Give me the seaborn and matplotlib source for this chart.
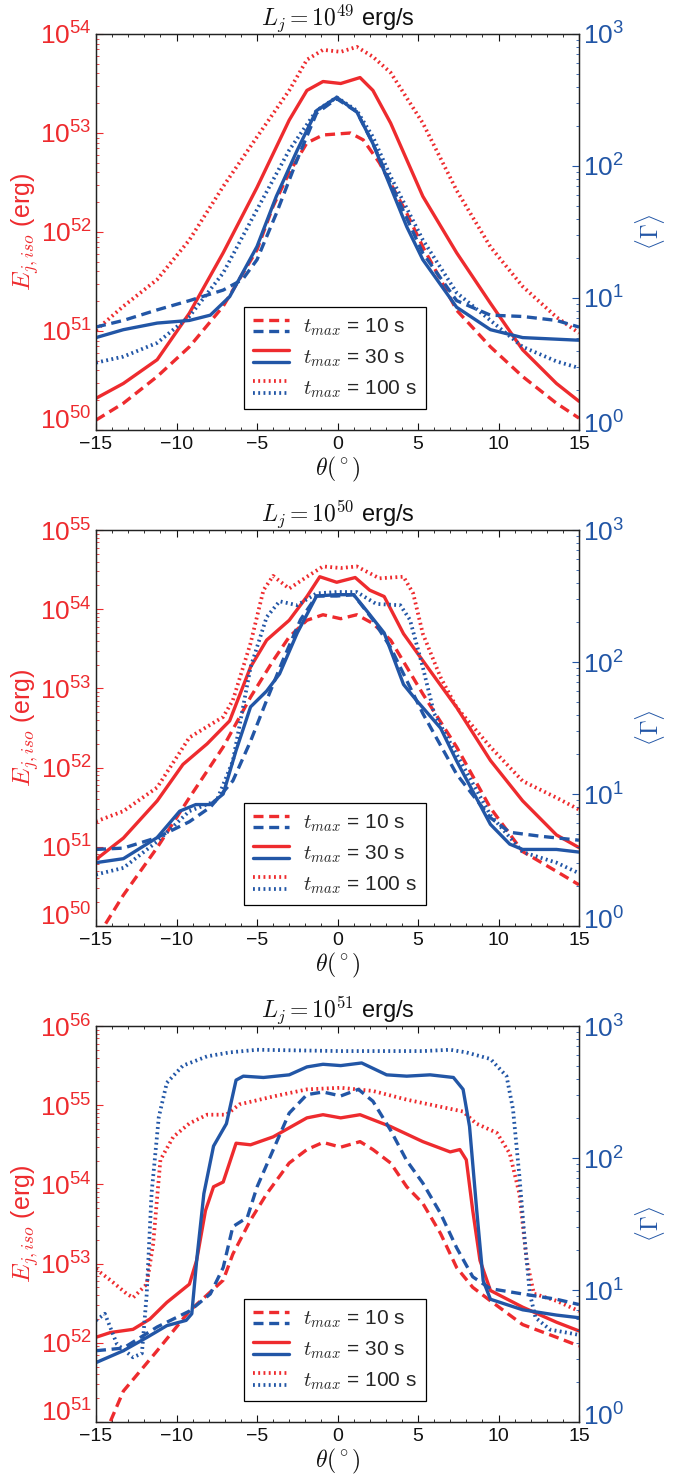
import numpy as np
import matplotlib
matplotlib.use("Agg")
import matplotlib.pyplot as plt
import seaborn as sns
from matplotlib.lines import Line2D
from matplotlib.legend_handler import HandlerBase
from matplotlib.ticker import MultipleLocator, LogLocator, NullFormatter
from matplotlib.transforms import ScaledTranslation

# ---------------- data (log10 values) ----------------
# Panel 1 : L_j = 1e49 erg/s
p1_E100_th = [-15, -13.3, -11.2, -9.2, -7.1, -5.0, -3.0, -1.9, -0.9, 0.2, 1.2, 2.2, 3.3, 5.3, 7.4, 9.5, 11.5, 13.6, 15]
p1_E100 = [51.01, 51.25, 51.52, 51.92, 52.46, 52.96, 53.43, 53.74, 53.84, 53.82, 53.87, 53.77, 53.61, 53.10, 52.42, 51.85, 51.45, 51.14, 50.98]
p1_E30_th = [-15, -13.3, -11.2, -9.2, -7.1, -5.0, -3.0, -1.9, -0.9, 0.2, 1.4, 2.2, 3.3, 5.3, 7.4, 9.5, 11.5, 13.6, 15]
p1_E30 = [50.32, 50.47, 50.71, 51.18, 51.79, 52.45, 53.13, 53.43, 53.52, 53.50, 53.56, 53.43, 53.10, 52.36, 51.79, 51.28, 50.81, 50.47, 50.29]
p1_E10_th = [-15, -13.3, -11.2, -9.2, -7.1, -5.0, -4.0, -3.0, -1.9, -0.9, 0.8, 1.6, 2.6, 4.3, 5.3, 6.4, 7.4, 9.5, 11.5, 13.6, 15]
p1_E10 = [50.10, 50.27, 50.54, 50.84, 51.25, 51.82, 52.26, 52.60, 52.90, 52.98, 53.00, 52.93, 52.70, 52.19, 51.85, 51.52, 51.21, 50.84, 50.54, 50.27, 50.12]
p1_G100_th = [-15, -13.3, -11.2, -9.2, -7.1, -5.0, -3.0, -1.3, -0.05, 1.2, 2.2, 3.3, 5.3, 7.4, 9.5, 11.5, 13.6, 15]
p1_G100 = [0.51, 0.556, 0.66, 0.86, 1.19, 1.67, 2.12, 2.42, 2.52, 2.42, 2.22, 1.92, 1.44, 1.04, 0.83, 0.63, 0.52, 0.47]
p1_G30_th = [-15, -13.3, -11.2, -9.2, -7.9, -6.7, -5.0, -3.8, -2.5, -1.3, -0.05, 1.2, 2.2, 3.3, 4.3, 5.3, 7.4, 9.5, 11.5, 15]
p1_G30 = [0.70, 0.76, 0.81, 0.83, 0.87, 1.01, 1.39, 1.77, 2.12, 2.42, 2.52, 2.41, 2.17, 1.84, 1.54, 1.29, 0.93, 0.76, 0.70, 0.68]
p1_G10_th = [-15, -13.3, -11.2, -9.2, -7.1, -5.9, -5.0, -3.8, -2.5, -1.3, -0.05, 1.2, 2.2, 3.3, 5.3, 7.4, 9.5, 11.5, 13.6, 15]
p1_G10 = [0.78, 0.83, 0.91, 0.98, 1.06, 1.14, 1.29, 1.64, 2.05, 2.40, 2.51, 2.41, 2.17, 1.87, 1.34, 0.98, 0.87, 0.86, 0.83, 0.78]

# Panel 2 : L_j = 1e50 erg/s
p2_E100_th = [-15, -13.3, -11.2, -9.2, -7.1, -6.5, -5.4, -4.6, -4.0, -3.0, -1.9, -0.9, 0.2, 1.2, 2.6, 4.1, 4.7, 5.3, 6.4, 7.4, 9.5, 11.5, 13.6, 15]
p2_E100 = [51.32, 51.45, 51.75, 52.38, 52.64, 52.85, 53.57, 54.24, 54.42, 54.26, 54.41, 54.54, 54.52, 54.54, 54.39, 54.41, 54.20, 53.69, 53.14, 52.76, 52.26, 51.83, 51.62, 51.47]
p2_E30_th = [-15, -13.3, -11.2, -9.6, -8.1, -6.7, -5.4, -4.4, -3.0, -1.9, -1.1, -0.05, 1.1, 2.0, 2.9, 4.1, 5.3, 7.4, 9.5, 11.5, 13.6, 15]
p2_E30 = [50.84, 51.11, 51.58, 52.04, 52.30, 52.59, 53.27, 53.61, 53.86, 54.16, 54.41, 54.34, 54.40, 54.24, 54.16, 53.69, 53.35, 52.76, 52.09, 51.58, 51.15, 50.99]
p2_E10_th = [-14.4, -13.3, -11.2, -9.2, -7.1, -5.4, -4.0, -3.0, -1.9, -0.9, 0.2, 1.2, 2.2, 3.3, 4.3, 5.3, 7.4, 9.5, 11.5, 13.6, 15]
p2_E10 = [50.03, 50.39, 50.99, 51.62, 52.26, 52.89, 53.35, 53.65, 53.86, 53.93, 53.88, 53.93, 53.82, 53.61, 53.27, 52.93, 52.26, 51.49, 50.94, 50.69, 50.52]
p2_G100_th = [-15, -13.3, -11.2, -9.2, -7.5, -6.5, -5.4, -4.4, -3.6, -2.5, -1.3, -0.05, 1.2, 2.4, 3.9, 4.5, 5.3, 6.0, 7.4, 9.5, 11.5, 13.6, 15]
p2_G100 = [0.39, 0.44, 0.64, 0.87, 0.95, 1.25, 1.96, 2.34, 2.46, 2.43, 2.52, 2.53, 2.53, 2.44, 2.43, 2.32, 1.96, 1.61, 1.30, 0.84, 0.56, 0.48, 0.40]
p2_G30_th = [-15, -13.3, -11.2, -9.8, -8.8, -7.9, -7.1, -6.3, -5.4, -4.4, -3.6, -2.5, -1.3, -0.05, 1.0, 1.8, 2.9, 4.1, 4.9, 6.4, 7.4, 9.5, 10.7, 11.5, 13.6, 15]
p2_G30 = [0.48, 0.51, 0.67, 0.87, 0.92, 0.92, 1.00, 1.33, 1.66, 1.78, 1.91, 2.22, 2.50, 2.51, 2.51, 2.39, 2.22, 1.83, 1.71, 1.50, 1.25, 0.77, 0.62, 0.58, 0.58, 0.56]
p2_G10_th = [-15, -13.3, -11.2, -9.2, -7.9, -6.5, -5.4, -4.4, -3.4, -2.3, -1.3, -0.05, 1.0, 2.2, 3.3, 4.3, 5.3, 7.4, 9.5, 10.7, 12.6, 15]
p2_G10 = [0.58, 0.59, 0.67, 0.79, 0.90, 1.10, 1.40, 1.71, 2.01, 2.32, 2.50, 2.50, 2.51, 2.32, 2.11, 1.86, 1.61, 1.15, 0.82, 0.71, 0.68, 0.65]

# Panel 3 : L_j = 1e51 erg/s
p3_E100_th = [-15, -14.1, -13.1, -12.7, -11.85, -11.45, -11.0, -10.2, -9.2, -8.1, -6.9, -6.1, -4.0, -1.9, 0.2, 2.2, 4.3, 6.4, 7.8, 8.6, 9.9, 10.7, 11.3, 11.75, 12.2, 13.6, 15]
p3_E100 = [52.93, 52.79, 52.62, 52.57, 52.74, 53.25, 54.31, 54.60, 54.77, 54.88, 54.88, 55.01, 55.11, 55.20, 55.22, 55.18, 55.07, 54.98, 54.92, 54.77, 54.65, 54.39, 53.88, 53.04, 52.62, 52.53, 52.40]
p3_E30_th = [-15, -14.1, -12.7, -11.65, -10.6, -9.2, -8.75, -8.2, -7.7, -7.1, -6.3, -5.4, -4.0, -1.9, -0.9, 0.2, 1.4, 3.3, 5.3, 7.0, 7.6, 8.0, 8.4, 8.85, 9.5, 11.5, 13.6, 15]
p3_E30 = [52.07, 52.13, 52.17, 52.30, 52.51, 52.74, 53.04, 53.67, 53.97, 54.03, 54.52, 54.50, 54.60, 54.84, 54.88, 54.84, 54.88, 54.73, 54.54, 54.41, 54.44, 54.31, 53.67, 53.04, 52.66, 52.45, 52.26, 52.15]
p3_E10_th = [-14.1, -13.3, -11.2, -9.2, -7.1, -6.5, -5.4, -4.4, -3.0, -1.9, -0.9, 0.2, 1.4, 2.2, 3.3, 4.3, 5.3, 6.4, 7.4, 8.4, 9.5, 10.5, 11.5, 13.6, 15]
p3_E10 = [51.01, 51.39, 51.90, 52.40, 52.79, 53.12, 53.55, 53.88, 54.27, 54.44, 54.53, 54.47, 54.54, 54.44, 54.27, 53.97, 53.76, 53.38, 52.95, 52.70, 52.53, 52.38, 52.23, 52.07, 51.96]
p3_G100_th = [-15, -14.45, -13.7, -12.7, -12.15, -11.85, -11.55, -11.1, -10.6, -9.6, -8.1, -6.7, -5.0, 0.2, 5.3, 7.0, 8.0, 9.5, 10.5, 10.9, 11.3, 11.65, 11.95, 12.3, 13.2, 15]
p3_G100 = [0.77, 0.82, 0.59, 0.49, 0.52, 0.97, 1.73, 2.31, 2.57, 2.70, 2.77, 2.80, 2.82, 2.81, 2.81, 2.82, 2.80, 2.75, 2.62, 2.37, 1.86, 1.35, 0.97, 0.79, 0.70, 0.66]
p3_G30_th = [-15, -13.3, -11.85, -10.6, -9.4, -9.05, -8.75, -8.3, -7.7, -6.9, -6.3, -5.85, -4.6, -3.0, -1.9, -0.9, 0.2, 1.5, 3.05, 4.3, 5.75, 7.2, 7.8, 8.2, 8.65, 9.05, 9.5, 11.5, 13.6, 15]
p3_G30 = [0.45, 0.54, 0.64, 0.73, 0.77, 0.82, 1.22, 1.73, 2.09, 2.26, 2.59, 2.62, 2.61, 2.63, 2.69, 2.71, 2.70, 2.72, 2.63, 2.62, 2.63, 2.61, 2.52, 2.24, 1.60, 1.07, 0.93, 0.85, 0.81, 0.79]
p3_G10_th = [-15, -13.3, -11.2, -9.2, -7.9, -7.1, -6.5, -5.6, -5.0, -4.0, -3.0, -1.9, -0.9, 0.2, 1.3, 2.2, 3.3, 4.3, 5.3, 6.4, 7.4, 8.4, 9.5, 11.5, 13.6, 15]
p3_G10 = [0.54, 0.56, 0.72, 0.84, 0.97, 1.17, 1.48, 1.55, 1.78, 2.06, 2.34, 2.48, 2.50, 2.47, 2.52, 2.43, 2.21, 1.98, 1.81, 1.58, 1.32, 1.10, 1.01, 0.97, 0.93, 0.89]

titles = [r"$L_j = 10^{49}$ erg/s", r"$L_j = 10^{50}$ erg/s", r"$L_j = 10^{51}$ erg/s"]
E_limits = [(1e50, 1e54), (1e50, 1e55), (1e51, 1e56)]
G_limits = (1, 1e3)
legend_labels = [r"$t_{max}$ = 10 s", r"$t_{max}$ = 30 s", r"$t_{max}$ = 100 s"]
x_ticks = [-15, -10, -5, 0, 5, 10, 15]

# ---------------- style ----------------
sns.set_theme(style="ticks")
plt.rcParams['font.family'] = ['Liberation Sans', 'DejaVu Sans']
plt.rcParams['mathtext.fontset'] = 'cm'
plt.rcParams['axes.linewidth'] = 0.9

RED = "#EE2B2E"
BLUE = "#2256A6"
STYLES = {
    10: dict(linestyle=(0, (3.0, 1.7)), linewidth=2.4),
    30: dict(linestyle="-", linewidth=2.4),
    100: dict(linestyle=(0, (0.5, 0.9)), linewidth=2.7),
}

panels = [
    dict(E={10: (p1_E10_th, p1_E10), 30: (p1_E30_th, p1_E30), 100: (p1_E100_th, p1_E100)},
         G={10: (p1_G10_th, p1_G10), 30: (p1_G30_th, p1_G30), 100: (p1_G100_th, p1_G100)}),
    dict(E={10: (p2_E10_th, p2_E10), 30: (p2_E30_th, p2_E30), 100: (p2_E100_th, p2_E100)},
         G={10: (p2_G10_th, p2_G10), 30: (p2_G30_th, p2_G30), 100: (p2_G100_th, p2_G100)}),
    dict(E={10: (p3_E10_th, p3_E10), 30: (p3_E30_th, p3_E30), 100: (p3_E100_th, p3_E100)},
         G={10: (p3_G10_th, p3_G10), 30: (p3_G30_th, p3_G30), 100: (p3_G100_th, p3_G100)}),
]


class PairHandle:
    def __init__(self, top, bottom):
        self.top = top
        self.bottom = bottom


class PairHandler(HandlerBase):
    def create_artists(self, legend, orig_handle, xdescent, ydescent, width,
                       height, fontsize, trans):
        arts = []
        for ln, dy in ((orig_handle.top, 4.2), (orig_handle.bottom, -4.2)):
            y = height / 2.0 - ydescent + dy
            l = Line2D([-xdescent, width - xdescent], [y, y])
            l.update_from(ln)
            l.set_transform(trans)
            arts.append(l)
        return arts


fig = plt.figure(figsize=(6.75, 14.76), dpi=100)
fig.patch.set_facecolor("white")

left = 96 / 675
width = 483 / 675
height = 396 / 1476
bottoms = [1 - 430 / 1476, 1 - 926 / 1476, 1 - 1422 / 1476]

axes_pairs = []
for i, pdata in enumerate(panels):
    ax = fig.add_axes([left, bottoms[i], width, height])
    ax2 = ax.twinx()
    ax.set_yscale("log")
    ax2.set_yscale("log")

    for t in (10, 30, 100):
        th, v = pdata["E"][t]
        sns.lineplot(x=np.array(th), y=10.0 ** np.array(v), ax=ax, color=RED,
                     estimator=None, sort=False, legend=False, **STYLES[t])
    for t in (10, 30, 100):
        th, v = pdata["G"][t]
        sns.lineplot(x=np.array(th), y=10.0 ** np.array(v), ax=ax2, color=BLUE,
                     estimator=None, sort=False, legend=False, **STYLES[t])

    ax.set_xlim(-15, 15)
    ax.set_ylim(*E_limits[i])
    ax2.set_ylim(*G_limits)
    ax.set_xticks(x_ticks)
    ax.xaxis.set_minor_locator(MultipleLocator(1))
    for a in (ax, ax2):
        a.yaxis.set_major_locator(LogLocator(base=10, numticks=12))
        a.yaxis.set_minor_locator(LogLocator(base=10, subs=np.arange(2, 10), numticks=40))
        a.yaxis.set_minor_formatter(NullFormatter())
        for s in a.spines.values():
            s.set_color("#222222")
            s.set_linewidth(0.9)

    ax.tick_params(axis="x", which="both", direction="in", top=True, bottom=True,
                   labelsize=14, colors="#111111", pad=4)
    ax.tick_params(axis="x", which="major", length=5, width=0.8)
    ax.tick_params(axis="x", which="minor", length=2.5, width=0.6)
    ax.tick_params(axis="y", which="both", direction="in", colors=RED, labelsize=19,
                   right=False, pad=3)
    ax.tick_params(axis="y", which="major", length=5, width=0.8)
    ax.tick_params(axis="y", which="minor", length=2.5, width=0.6)
    ax2.tick_params(axis="y", which="both", direction="in", colors=BLUE, labelsize=19,
                    left=False, pad=3)
    ax2.tick_params(axis="y", which="major", length=5, width=0.8)
    ax2.tick_params(axis="y", which="minor", length=2.5, width=0.6)

    ax.set_title(titles[i], fontsize=17, pad=5, color="#111111")
    ax.set_xlabel(r"$\theta(^\circ)$", fontsize=17, color="#111111", labelpad=2)
    ax.set_ylabel(r"$E_{j,iso}$ (erg)", fontsize=18, color=RED)
    ax.yaxis.set_label_coords(-0.114, 0.5)
    ax2.set_ylabel(r"$\langle\Gamma\rangle$", fontsize=17, color=BLUE)
    ax2.yaxis.set_label_coords(1.112, 0.5)

    handles = []
    for t in (10, 30, 100):
        top = Line2D([], [], color=RED, **STYLES[t])
        bot = Line2D([], [], color=BLUE, **STYLES[t])
        handles.append(PairHandle(top, bot))
    leg = ax2.legend(handles, legend_labels, handler_map={PairHandle: PairHandler()},
                     loc="lower center", bbox_to_anchor=(0.495, 0.053), borderaxespad=0,
                     fontsize=15, handlelength=1.7, handleheight=1.0, handletextpad=0.7,
                     labelspacing=0.42, borderpad=0.45, fancybox=False, framealpha=1,
                     edgecolor="black")
    leg.get_frame().set_linewidth(0.9)
    leg.set_zorder(10)
    axes_pairs.append((ax, ax2))

# nudge the lowest y tick labels upward (as in the reference) so they clear the x labels
fig.canvas.draw()
for ax, ax2 in axes_pairs:
    lo = ax.get_ylim()[0]
    for tick in ax.yaxis.get_major_ticks():
        if np.isclose(tick.get_loc(), lo, rtol=1e-6):
            tick.label1.set_transform(tick.label1.get_transform() +
                                      ScaledTranslation(0, 0.11, fig.dpi_scale_trans))
    lo2 = ax2.get_ylim()[0]
    for tick in ax2.yaxis.get_major_ticks():
        if np.isclose(tick.get_loc(), lo2, rtol=1e-6):
            tick.label2.set_transform(tick.label2.get_transform() +
                                      ScaledTranslation(0, 0.07, fig.dpi_scale_trans))

fig.savefig("out.png", dpi=100, facecolor="white")
